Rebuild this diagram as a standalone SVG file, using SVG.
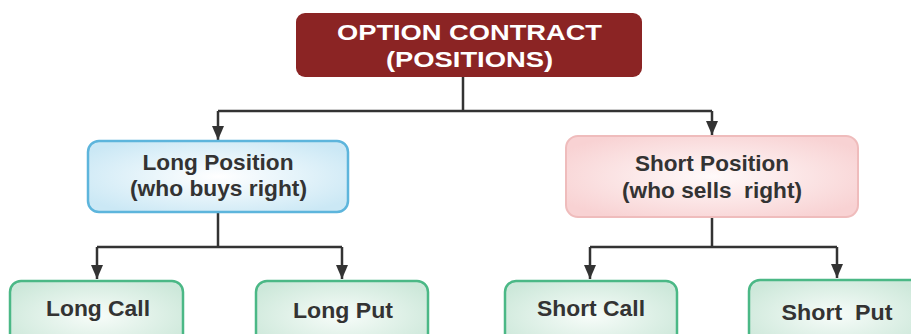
<svg xmlns="http://www.w3.org/2000/svg" width="911" height="334" viewBox="0 0 911 334">
  <defs>
    <radialGradient id="gBlue" cx="50%" cy="50%" r="60%">
      <stop offset="0" stop-color="#ffffff"/>
      <stop offset="1" stop-color="#cbe8f5"/>
    </radialGradient>
    <radialGradient id="gPink" cx="50%" cy="50%" r="60%">
      <stop offset="0" stop-color="#fffafa"/>
      <stop offset="1" stop-color="#f8d2d3"/>
    </radialGradient>
    <radialGradient id="gGreen" cx="50%" cy="50%" r="60%">
      <stop offset="0" stop-color="#f7fcf9"/>
      <stop offset="1" stop-color="#cde8da"/>
    </radialGradient>
    <!-- arrowhead drawn along +x so orient="auto" points it down the line -->
    <marker id="arrow" viewBox="0 0 14 12" refX="14" refY="6" markerWidth="14" markerHeight="12" markerUnits="userSpaceOnUse" orient="auto">
      <path d="M0,0 L14,6 L0,12 Z" fill="#333333"/>
    </marker>
  </defs>
  <style>
    .lbl { font-family: "Liberation Sans", Arial, sans-serif; font-weight: bold; text-anchor: middle; fill: #333333; font-size: 22px; }
    .root { fill: #ffffff; font-size: 22.5px; }
    .conn { fill: none; stroke: #333333; stroke-width: 2.5; }
    .leaf { fill: url(#gGreen); stroke: #4bb886; stroke-width: 2.5; }
  </style>
  <rect width="911" height="334" fill="#ffffff"/>

  <g id="connectors">
    <path class="conn" d="M463,77 V111"/>
    <path class="conn" d="M218,111 H712"/>
    <path class="conn" d="M218,111 V140" marker-end="url(#arrow)"/>
    <path class="conn" d="M712,111 V135" marker-end="url(#arrow)"/>
    <path class="conn" d="M218,212 V247"/>
    <path class="conn" d="M97,247 H342"/>
    <path class="conn" d="M97,247 V279" marker-end="url(#arrow)"/>
    <path class="conn" d="M342,247 V279" marker-end="url(#arrow)"/>
    <path class="conn" d="M712,217 V247"/>
    <path class="conn" d="M590,247 H837"/>
    <path class="conn" d="M590,247 V279" marker-end="url(#arrow)"/>
    <path class="conn" d="M837,247 V278" marker-end="url(#arrow)"/>
  </g>

  <g id="option-contract">
    <rect x="296" y="13" width="346" height="64" rx="9" fill="#8b2424"/>
    <text class="lbl root" x="469.5" y="40" textLength="265" lengthAdjust="spacingAndGlyphs">OPTION CONTRACT</text>
    <text class="lbl root" x="469.5" y="67" textLength="167" lengthAdjust="spacingAndGlyphs">(POSITIONS)</text>
  </g>

  <g id="long-position">
    <rect x="88" y="141" width="260" height="71" rx="11" fill="url(#gBlue)" stroke="#5db5dc" stroke-width="2.5"/>
    <text class="lbl" x="218" y="170" textLength="151" lengthAdjust="spacingAndGlyphs">Long Position</text>
    <text class="lbl" x="218.5" y="196" textLength="177" lengthAdjust="spacingAndGlyphs">(who buys right)</text>
  </g>

  <g id="short-position">
    <rect x="566" y="136" width="292" height="81" rx="12" fill="url(#gPink)" stroke="#efbcbc" stroke-width="2"/>
    <text class="lbl" x="712" y="171" textLength="154" lengthAdjust="spacingAndGlyphs">Short Position</text>
    <text class="lbl" x="712" y="198" textLength="180" lengthAdjust="spacingAndGlyphs" xml:space="preserve">(who sells  right)</text>
  </g>

  <g id="long-call">
    <rect class="leaf" x="10" y="281" width="173" height="70" rx="11"/>
    <text class="lbl" x="98" y="316" textLength="104" lengthAdjust="spacingAndGlyphs">Long Call</text>
  </g>

  <g id="long-put">
    <rect class="leaf" x="256" y="281" width="172" height="70" rx="11"/>
    <text class="lbl" x="343" y="318" textLength="100" lengthAdjust="spacingAndGlyphs">Long Put</text>
  </g>

  <g id="short-call">
    <rect class="leaf" x="505" y="281" width="172" height="70" rx="11"/>
    <text class="lbl" x="591" y="316" textLength="108" lengthAdjust="spacingAndGlyphs">Short Call</text>
  </g>

  <g id="short-put">
    <rect class="leaf" x="749" y="280" width="172" height="70" rx="11"/>
    <text class="lbl" x="837" y="320" textLength="111" lengthAdjust="spacingAndGlyphs" xml:space="preserve">Short  Put</text>
  </g>
</svg>
